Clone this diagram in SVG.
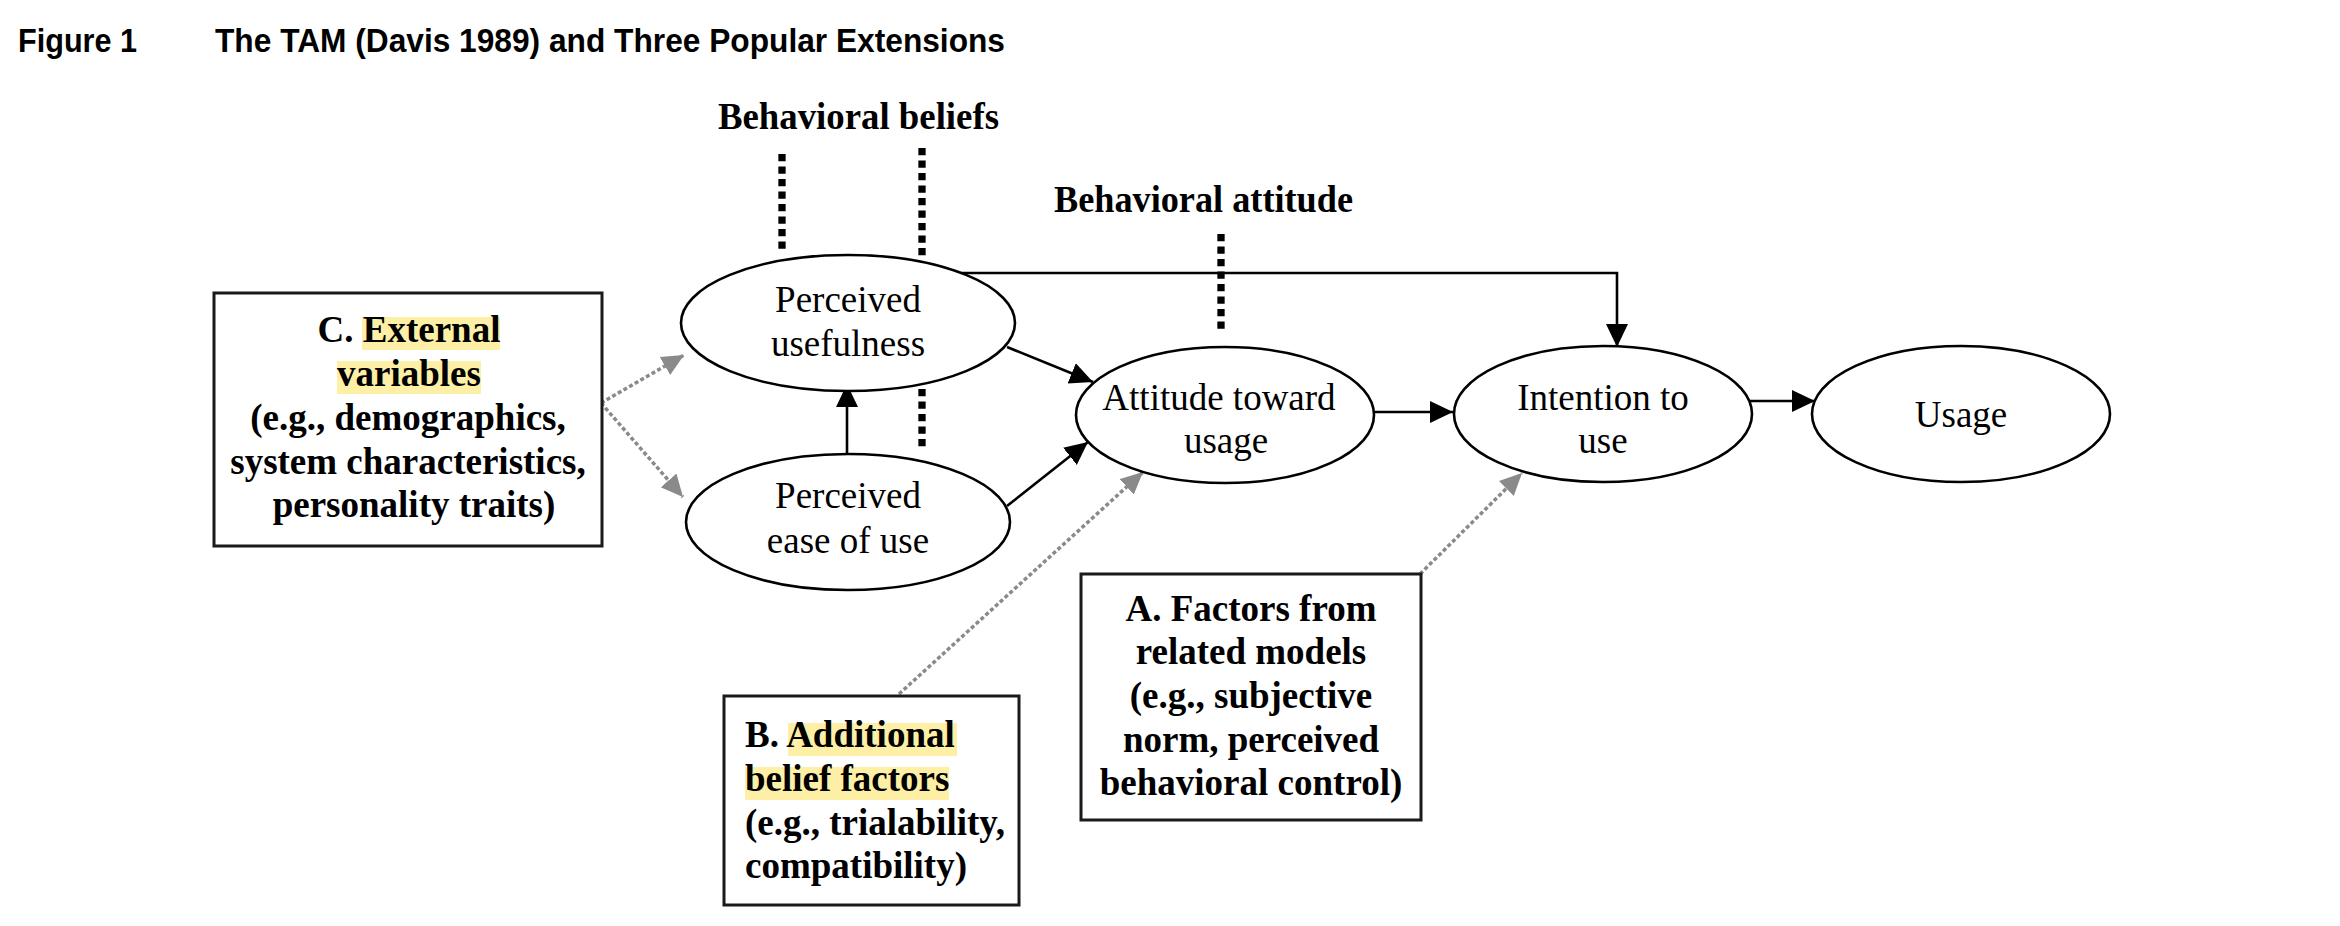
<svg xmlns="http://www.w3.org/2000/svg" width="2340" height="926" viewBox="0 0 2340 926">
<style>
.title{font-family:"Liberation Sans Narrow","Liberation Sans",Arial,sans-serif;font-weight:bold;font-size:34px;fill:#000}
.lbl{font-family:"Liberation Serif","Times New Roman",serif;font-weight:bold;font-size:37px;fill:#000}
.node{font-family:"Liberation Serif","Times New Roman",serif;font-size:37px;fill:#000}
.mid{text-anchor:middle}
.ell{fill:#fff;stroke:#000;stroke-width:2.6}
.box{fill:#fff;stroke:#1a1a1a;stroke-width:3}
.hl{fill:#FDF0A6}
.solid{fill:none;stroke:#000;stroke-width:2.6}
.gray{fill:none;stroke:#8a8a8a;stroke-width:3.5;stroke-dasharray:4 2.5}
.brk{fill:none;stroke:#000;stroke-width:7.3;stroke-dasharray:7.3 5.2}
</style>
<defs>
<marker id="ah" markerUnits="userSpaceOnUse" markerWidth="24" markerHeight="24" refX="23" refY="11" orient="auto">
<path d="M0,0 L23,11 L0,22 z" fill="#000"/>
</marker>
<marker id="ahg" markerUnits="userSpaceOnUse" markerWidth="24" markerHeight="24" refX="22" refY="10.5" orient="auto">
<path d="M0,0 L22,10.5 L0,21 z" fill="#8a8a8a"/>
</marker>
</defs>
<rect width="2340" height="926" fill="#fff"/>

<g id="title">
<text class="title" x="18" y="52" textLength="119" lengthAdjust="spacingAndGlyphs">Figure 1</text>
<text class="title" x="215" y="52" textLength="790" lengthAdjust="spacingAndGlyphs">The TAM (Davis 1989) and Three Popular Extensions</text>
</g>

<g id="headings">
<text class="lbl" x="718" y="129" textLength="281" lengthAdjust="spacingAndGlyphs">Behavioral beliefs</text>
<text class="lbl" x="1054" y="212" textLength="299" lengthAdjust="spacingAndGlyphs">Behavioral attitude</text>
</g>

<g id="brackets">
<line class="brk" x1="782" y1="154" x2="782" y2="252"/>
<line class="brk" x1="922" y1="148" x2="922" y2="257"/>
<line class="brk" x1="922" y1="389" x2="922" y2="448"/>
<line class="brk" x1="1221" y1="234" x2="1221" y2="332"/>
</g>

<g id="connectors">
<line class="solid" x1="847" y1="454" x2="847" y2="384" marker-end="url(#ah)"/>
<line class="solid" x1="1007" y1="347" x2="1093" y2="382" marker-end="url(#ah)"/>
<line class="solid" x1="1007" y1="506" x2="1088" y2="442" marker-end="url(#ah)"/>
<line class="solid" x1="1374" y1="412" x2="1453" y2="412" marker-end="url(#ah)"/>
<line class="solid" x1="1750" y1="401" x2="1815" y2="401" marker-end="url(#ah)"/>
<polyline class="solid" points="960,273 1617,273 1617,347" marker-end="url(#ah)"/>
<line class="gray" x1="601" y1="403" x2="684" y2="355" marker-end="url(#ahg)"/>
<line class="gray" x1="601" y1="403" x2="683" y2="497" marker-end="url(#ahg)"/>
<line class="gray" x1="899" y1="694" x2="1143" y2="472" marker-end="url(#ahg)"/>
<line class="gray" x1="1420" y1="574" x2="1522" y2="473" marker-end="url(#ahg)"/>
</g>

<g id="pu">
<ellipse class="ell" cx="848" cy="323" rx="167" ry="68"/>
<text class="node mid" x="848" y="312">Perceived</text>
<text class="node mid" x="848" y="356">usefulness</text>
</g>

<g id="peou">
<ellipse class="ell" cx="848" cy="522" rx="162" ry="68"/>
<text class="node mid" x="848" y="508">Perceived</text>
<text class="node mid" x="848" y="553">ease of use</text>
</g>

<g id="atu">
<ellipse class="ell" cx="1225" cy="415" rx="149" ry="68"/>
<text class="node mid" x="1219" y="410">Attitude toward</text>
<text class="node mid" x="1226" y="453">usage</text>
</g>

<g id="itu">
<ellipse class="ell" cx="1603" cy="414" rx="149" ry="68"/>
<text class="node mid" x="1603" y="410">Intention to</text>
<text class="node mid" x="1603" y="453">use</text>
</g>

<g id="usage">
<ellipse class="ell" cx="1961" cy="414" rx="149" ry="68"/>
<text class="node mid" x="1961" y="427">Usage</text>
</g>

<g id="boxC">
<rect class="box" x="214" y="293" width="388" height="253"/>
<rect class="hl" x="362" y="317" width="138" height="33"/>
<rect class="hl" x="337" y="361" width="144" height="33"/>
<text class="lbl mid" x="409" y="342">C. External</text>
<text class="lbl mid" x="409" y="386">variables</text>
<text class="lbl mid" x="408" y="430">(e.g., demographics,</text>
<text class="lbl mid" x="408" y="474">system characteristics,</text>
<text class="lbl mid" x="414" y="517">personality traits)</text>
</g>

<g id="boxB">
<rect class="box" x="724" y="696" width="295" height="209"/>
<rect class="hl" x="788" y="723" width="169" height="33"/>
<rect class="hl" x="745" y="767" width="204" height="33"/>
<text class="lbl" x="745" y="747">B. Additional</text>
<text class="lbl" x="745" y="791">belief factors</text>
<text class="lbl" x="745" y="835">(e.g., trialability,</text>
<text class="lbl" x="745" y="878">compatibility)</text>
</g>

<g id="boxA">
<rect class="box" x="1081" y="574" width="340" height="246"/>
<text class="lbl mid" x="1251" y="621">A. Factors from</text>
<text class="lbl mid" x="1251" y="664">related models</text>
<text class="lbl mid" x="1251" y="708">(e.g., subjective</text>
<text class="lbl mid" x="1251" y="752">norm, perceived</text>
<text class="lbl mid" x="1251" y="795">behavioral control)</text>
</g>
</svg>
